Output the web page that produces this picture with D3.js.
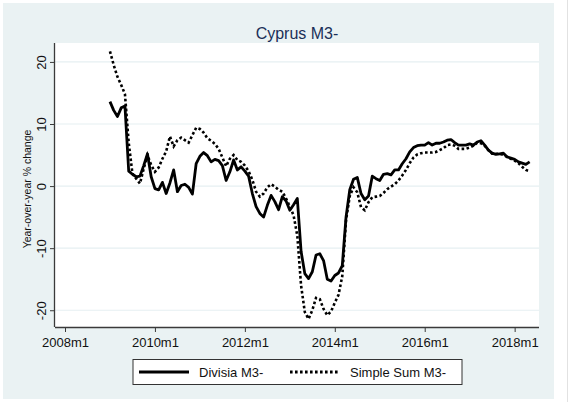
<!DOCTYPE html>
<html>
<head>
<meta charset="utf-8">
<script src="https://cdn.jsdelivr.net/npm/d3@7"></script>
<style>
  body { margin: 0; background: #fff; }
  svg { display: block; font-family: "Liberation Sans", Arial, sans-serif; }
</style>
</head>
<body>
<div id="chart"></div>
<script>
// monthly data, first value = 2009m1 (month index counted from 2008m1 = 0)
var startMonth = 12;
var divisia = [
  13.6, 12.2, 11.2, 12.6, 12.9, 2.4, 1.9, 1.5, 1.6, 3.3, 5.2, 1.5,
  -0.4, -0.6, 0.6, -1.2, 0.5, 2.6, -0.9, 0.1, 0.3, -0.2, -1.3, 3.6,
  4.8, 5.4, 4.9, 3.9, 4.3, 4.1, 3.3, 0.9, 2.3, 4.2, 2.6, 3.1,
  2.4, 1.6, -1.2, -3.3, -4.4, -5.0, -3.1, -1.5, -2.5, -3.8, -1.7, -2.4,
  -3.9, -3.0, -2.0, -10.5, -14.1, -14.9, -13.8, -11.1, -10.9, -12.0, -15.0, -15.3,
  -14.4, -14.0, -12.8, -5.0, -0.6, 1.1, 1.4, -1.2, -2.2, -1.6, 1.6, 1.2,
  0.9, 1.9, 2.0, 1.8, 2.6, 2.6, 3.6, 4.4, 5.5, 6.2, 6.5, 6.6,
  6.6, 7.0, 6.6, 6.9, 6.9, 7.1, 7.4, 7.5, 7.0, 6.6, 6.6, 6.6,
  6.8, 6.6, 7.1, 7.3, 6.6, 5.8, 5.3, 5.1, 5.2, 5.3, 4.7, 4.5,
  4.3, 3.9, 3.7, 3.5, 3.9
];
var simpleSum = [
  21.7, 19.5, 17.6, 16.3, 14.8, 7.0, 2.0, 1.2, 0.4, 2.8, 5.0, 3.4,
  2.3, 3.0, 4.4, 5.6, 8.0, 6.4, 7.4, 7.8, 7.4, 7.0, 8.2, 9.4,
  9.2, 8.6, 7.7, 7.3, 6.8, 6.0, 4.6, 3.2, 4.4, 5.0, 4.2, 3.9,
  3.3, 2.4, 1.0, -0.9, -1.7, -1.2, -0.2, 0.3, -0.1, -0.6, -0.9, -2.0,
  -3.3, -4.7, -8.0, -16.0, -20.3, -21.4, -20.0, -18.0, -18.2, -19.8, -20.8, -20.2,
  -18.8, -17.5, -14.5, -5.5, -1.6, -0.2, -1.0, -3.4, -3.9, -2.6, -1.8, -1.7,
  -1.6, -1.1, -0.5, -0.1, 0.3, 0.9, 1.7, 2.6, 3.7, 4.6, 5.1, 5.3,
  5.4, 5.4, 5.4, 5.5, 5.8, 6.1, 6.6, 6.7, 6.5, 6.0, 6.0, 6.0,
  6.2, 6.5, 7.0, 6.9, 6.5, 5.8, 5.2, 5.2, 5.2, 5.0, 4.7, 4.4,
  4.1, 3.7, 3.1, 2.6, 2.4
];
var xTicks = [0, 24, 48, 72, 96, 120];
var xTickLabels = ["2008m1", "2010m1", "2012m1", "2014m1", "2016m1", "2018m1"];
var yTicks = [-20, -10, 0, 10, 20];
var yTickLabels = ["-20", "-10", "0", "10", "20"];
var seriesNames = ["Divisia M3-", "Simple Sum M3-"];

var width = 571, height = 402;

var svg = d3.select("#chart")
    .append("svg")
    .attr("width", width)
    .attr("height", height);

// graph region (Stata style light bluish background)
svg.append("rect")
    .attr("x", 3).attr("y", 3)
    .attr("width", 551).attr("height", 396)
    .style("fill", "#eaf2f3");

svg.append("line")
    .attr("x1", 567.5).attr("x2", 567.5)
    .attr("y1", 0).attr("y2", height)
    .style("stroke", "#e2e2e2");

var plot = {left: 55, right: 539, top: 43, bottom: 327};

svg.append("rect")
    .attr("x", plot.left).attr("y", plot.top)
    .attr("width", plot.right - plot.left)
    .attr("height", plot.bottom - plot.top)
    .style("fill", "#fff");

var x = d3.scaleLinear()
    .domain([-2.67, 126.5])
    .range([plot.left, plot.right]);

var y = d3.scaleLinear()
    .domain([-22.7, 23.05])
    .range([plot.bottom, plot.top]);

// gridlines
svg.append("g")
    .selectAll("line")
    .data(yTicks)
    .enter().append("line")
    .attr("x1", plot.left).attr("x2", plot.right)
    .attr("y1", function (d) { return y(d); })
    .attr("y2", function (d) { return y(d); })
    .style("stroke", "#e6eff2")
    .style("stroke-width", 1.2);

// axes
var xAxis = d3.axisBottom(x)
    .tickValues(xTicks)
    .tickSize(5)
    .tickPadding(6)
    .tickFormat(function (d, i) { return xTickLabels[i]; });

var gx = svg.append("g")
    .attr("transform", "translate(0," + plot.bottom + ")")
    .call(xAxis);
gx.select(".domain").attr("d", "M" + plot.left + ",0.5H" + plot.right);

var yAxis = d3.axisLeft(y)
    .tickValues(yTicks)
    .tickSize(5)
    .tickFormat(function (d, i) { return yTickLabels[i]; });

var gy = svg.append("g")
    .attr("transform", "translate(" + plot.left + ",0)")
    .call(yAxis);
gy.select(".domain").attr("d", "M-0.5," + plot.top + "V" + plot.bottom);

svg.selectAll(".domain").style("stroke", "#3a3a3a").style("stroke-width", 1.3);
svg.selectAll(".tick line").style("stroke", "#3a3a3a");
gx.selectAll(".tick text")
    .style("font-size", "13px")
    .style("fill", "#111")
    .style("font-family", "Liberation Sans, Arial, sans-serif");
gy.selectAll(".tick text")
    .attr("x", null).attr("dy", "0.35em")
    .attr("text-anchor", "middle")
    .attr("transform", "translate(-14,0) rotate(-90)")
    .style("font-size", "13px")
    .style("fill", "#111")
    .style("font-family", "Liberation Sans, Arial, sans-serif");

// axis title
svg.append("text")
    .attr("transform", "translate(31," + ((plot.top + plot.bottom) / 2 + 4) + ") rotate(-90)")
    .attr("text-anchor", "middle")
    .style("font-size", "10.5px")
    .style("fill", "#111")
    .text("Year-over-year % change");

// title
svg.append("text")
    .attr("x", (plot.left + plot.right) / 2)
    .attr("y", 39)
    .attr("text-anchor", "middle")
    .style("font-size", "16px")
    .style("fill", "#1a2f58")
    .text("Cyprus M3-");

// series
var line = d3.line()
    .x(function (d, i) { return x(startMonth + i); })
    .y(function (d) { return y(d); });

svg.append("path")
    .datum(simpleSum)
    .attr("d", line)
    .style("fill", "none")
    .style("stroke", "#000")
    .style("stroke-width", 2.6)
    .style("stroke-dasharray", "2.6,2.4");

svg.append("path")
    .datum(divisia)
    .attr("d", line)
    .style("fill", "none")
    .style("stroke", "#000")
    .style("stroke-width", 2.8)
    .style("stroke-linejoin", "round");

// legend
var legend = svg.append("g");
legend.append("rect")
    .attr("x", 133).attr("y", 359.5)
    .attr("width", 329).attr("height", 25)
    .style("fill", "#fff")
    .style("stroke", "#333")
    .style("stroke-width", 1);

var legendItems = [
    {x: 139, name: seriesNames[0], dash: null},
    {x: 290, name: seriesNames[1], dash: "2.6,2.4"}
];
legendItems.forEach(function (item) {
    legend.append("line")
        .attr("x1", item.x).attr("x2", item.x + 50)
        .attr("y1", 372).attr("y2", 372)
        .style("stroke", "#000")
        .style("stroke-width", 2.8)
        .style("stroke-dasharray", item.dash);
    legend.append("text")
        .attr("x", item.x + 60)
        .attr("y", 376.5)
        .style("font-size", "13px")
        .style("fill", "#111")
        .text(item.name);
});
</script>
</body>
</html>
